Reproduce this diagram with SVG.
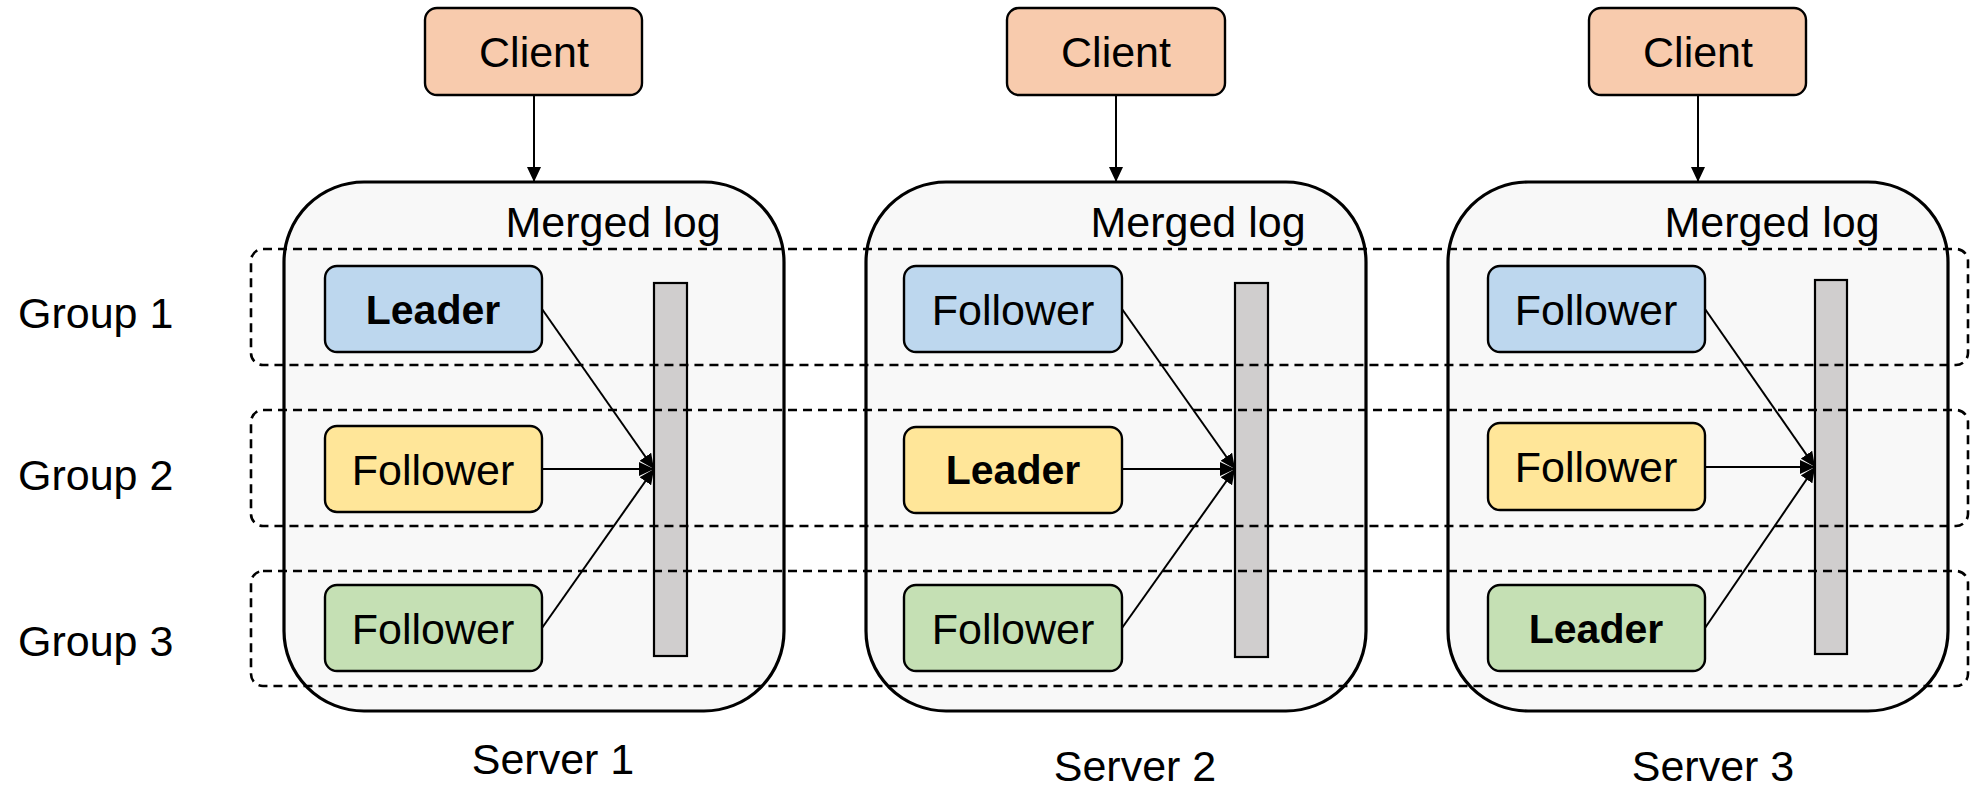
<svg xmlns="http://www.w3.org/2000/svg" width="1970" height="787" viewBox="0 0 1970 787">
  <style>
    text { font-family: "Liberation Sans", Arial, sans-serif; fill: #000; }
    .lbl { font-size: 43px; }
    .bold { font-size: 41px; font-weight: bold; }
    .mid { text-anchor: middle; }
    .server { fill: #F8F8F8; stroke: #000; stroke-width: 3.2; }
    .client { fill: #F8CBAD; stroke: #000; stroke-width: 2.4; }
    .blue { fill: #BDD7EE; stroke: #000; stroke-width: 2.4; }
    .yellow { fill: #FFE699; stroke: #000; stroke-width: 2.4; }
    .green { fill: #C5E0B4; stroke: #000; stroke-width: 2.4; }
    .log { fill: #D0CECE; stroke: #000; stroke-width: 2.2; }
    .group { fill: none; stroke: #000; stroke-width: 2.6; stroke-dasharray: 9 6; }
    .edge { fill: none; stroke: #000; stroke-width: 2; marker-end: url(#arrow); }
  </style>
  <defs>
    <marker id="arrow" markerUnits="userSpaceOnUse" markerWidth="16" markerHeight="14" refX="15" refY="7" orient="auto">
      <path d="M0,0 L15,7 L0,14 Z" fill="#000"/>
    </marker>
  </defs>

  <!-- servers -->
  <g id="server1">
    <rect class="server" x="284" y="182" width="500" height="529" rx="80"/>
    <text class="lbl mid" x="613" y="237">Merged log</text>
    <rect class="log" x="654" y="283" width="33" height="373"/>
  </g>
  <g id="server2">
    <rect class="server" x="866" y="182" width="500" height="529" rx="80"/>
    <text class="lbl mid" x="1198" y="237">Merged log</text>
    <rect class="log" x="1235" y="283" width="33" height="374"/>
  </g>
  <g id="server3">
    <rect class="server" x="1448" y="182" width="500" height="529" rx="80"/>
    <text class="lbl mid" x="1772" y="237">Merged log</text>
    <rect class="log" x="1815" y="280" width="32" height="374"/>
  </g>

  <!-- clients -->
  <g id="client1">
    <rect class="client" x="425" y="8" width="217" height="87" rx="12"/>
    <text class="lbl mid" x="534" y="67">Client</text>
  </g>
  <g id="client2">
    <rect class="client" x="1007" y="8" width="218" height="87" rx="12"/>
    <text class="lbl mid" x="1116" y="67">Client</text>
  </g>
  <g id="client3">
    <rect class="client" x="1589" y="8" width="217" height="87" rx="12"/>
    <text class="lbl mid" x="1698" y="67">Client</text>
  </g>

  <!-- replicas, server 1 -->
  <g id="s1-g1">
    <rect class="blue" x="325" y="266" width="217" height="86" rx="12"/>
    <text class="bold mid" x="433" y="324">Leader</text>
  </g>
  <g id="s1-g2">
    <rect class="yellow" x="325" y="426" width="217" height="86" rx="12"/>
    <text class="lbl mid" x="433" y="485">Follower</text>
  </g>
  <g id="s1-g3">
    <rect class="green" x="325" y="585" width="217" height="86" rx="12"/>
    <text class="lbl mid" x="433" y="644">Follower</text>
  </g>

  <!-- replicas, server 2 -->
  <g id="s2-g1">
    <rect class="blue" x="904" y="266" width="218" height="86" rx="12"/>
    <text class="lbl mid" x="1013" y="325">Follower</text>
  </g>
  <g id="s2-g2">
    <rect class="yellow" x="904" y="427" width="218" height="86" rx="12"/>
    <text class="bold mid" x="1013" y="484">Leader</text>
  </g>
  <g id="s2-g3">
    <rect class="green" x="904" y="585" width="218" height="86" rx="12"/>
    <text class="lbl mid" x="1013" y="644">Follower</text>
  </g>

  <!-- replicas, server 3 -->
  <g id="s3-g1">
    <rect class="blue" x="1488" y="266" width="217" height="86" rx="12"/>
    <text class="lbl mid" x="1596" y="325">Follower</text>
  </g>
  <g id="s3-g2">
    <rect class="yellow" x="1488" y="423" width="217" height="87" rx="12"/>
    <text class="lbl mid" x="1596" y="482">Follower</text>
  </g>
  <g id="s3-g3">
    <rect class="green" x="1488" y="585" width="217" height="86" rx="12"/>
    <text class="bold mid" x="1596" y="643">Leader</text>
  </g>

  <!-- connectors -->
  <g id="connectors">
    <line class="edge" x1="534" y1="95" x2="534" y2="182"/>
    <line class="edge" x1="1116" y1="95" x2="1116" y2="182"/>
    <line class="edge" x1="1698" y1="95" x2="1698" y2="182"/>

    <line class="edge" x1="542" y1="309" x2="654" y2="469"/>
    <line class="edge" x1="542" y1="469" x2="654" y2="469"/>
    <line class="edge" x1="542" y1="628" x2="654" y2="469"/>

    <line class="edge" x1="1122" y1="309" x2="1235" y2="469"/>
    <line class="edge" x1="1122" y1="469" x2="1235" y2="469"/>
    <line class="edge" x1="1122" y1="628" x2="1235" y2="469"/>

    <line class="edge" x1="1705" y1="309" x2="1815" y2="467"/>
    <line class="edge" x1="1705" y1="467" x2="1815" y2="467"/>
    <line class="edge" x1="1705" y1="628" x2="1815" y2="467"/>
  </g>

  <!-- replication groups -->
  <g id="group1">
    <rect class="group" x="251" y="249" width="1717" height="116" rx="12"/>
    <text class="lbl" x="18" y="328">Group 1</text>
  </g>
  <g id="group2">
    <rect class="group" x="251" y="410" width="1717" height="116" rx="12"/>
    <text class="lbl" x="18" y="490">Group 2</text>
  </g>
  <g id="group3">
    <rect class="group" x="251" y="571" width="1717" height="115" rx="12"/>
    <text class="lbl" x="18" y="656">Group 3</text>
  </g>

  <!-- server captions -->
  <g id="captions">
    <text class="lbl mid" x="553" y="774">Server 1</text>
    <text class="lbl mid" x="1135" y="781">Server 2</text>
    <text class="lbl mid" x="1713" y="781">Server 3</text>
  </g>
</svg>
